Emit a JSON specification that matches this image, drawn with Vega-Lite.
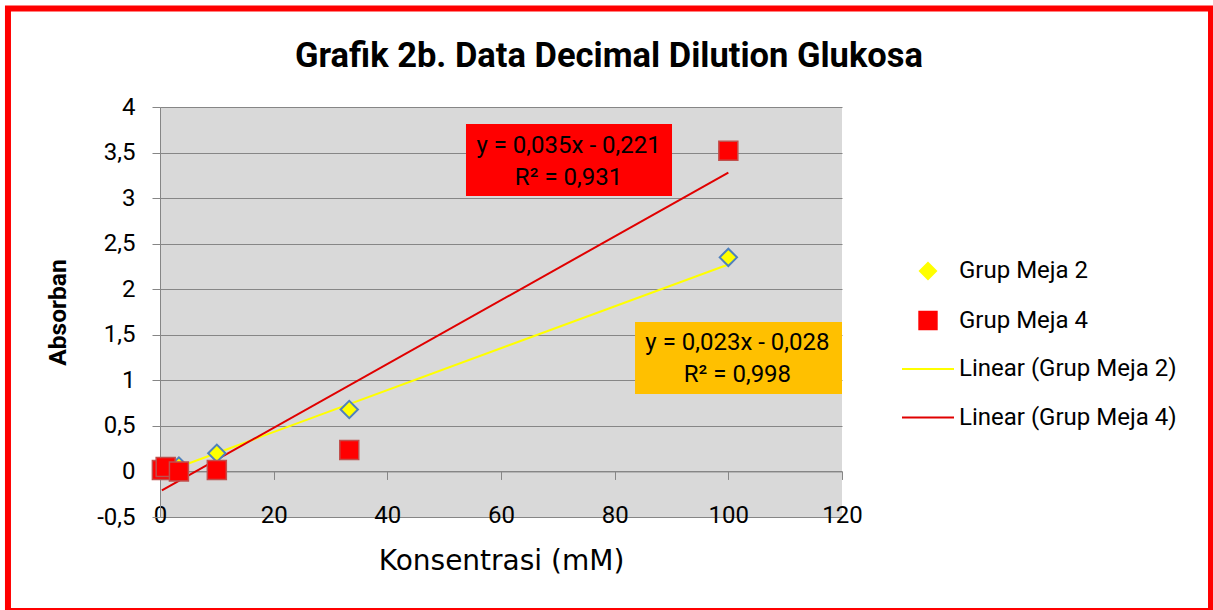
{
  "$schema": "https://vega.github.io/schema/vega-lite/v6.json",
  "width": 682,
  "height": 410,
  "autosize": {"type": "none"},
  "padding": {"left": 160, "top": 107, "right": 371, "bottom": 93},
  "background": "white",
  "title": {
    "text": "Grafik 2b. Data Decimal Dilution Glukosa",
    "font": "Roboto",
    "fontSize": 34.5,
    "fontWeight": "bold",
    "color": "#000000",
    "baseline": "alphabetic",
    "anchor": "middle",
    "offset": 0,
    "dy": 95.5,
    "dx": 108
  },
  "config": {
    "view": {"stroke": null, "fill": "#D9D9D9"},
    "axis": {
      "domainColor": "#868686",
      "tickColor": "#868686",
      "gridColor": "#868686",
      "gridOpacity": 1,
      "labelFont": "Roboto",
      "labelFontSize": 24,
      "labelColor": "#000000",
      "titleColor": "#000000",
      "tickSize": 8,
      "domainWidth": 1,
      "tickWidth": 1,
      "gridWidth": 1
    }
  },
  "datasets": {
    "pengukuran": [
      {"konsentrasi": 0.33, "absorban": 0.02, "series": "Grup Meja 2"},
      {"konsentrasi": 1, "absorban": 0.03, "series": "Grup Meja 2"},
      {"konsentrasi": 3.33, "absorban": 0.06, "series": "Grup Meja 2"},
      {"konsentrasi": 10, "absorban": 0.2, "series": "Grup Meja 2"},
      {"konsentrasi": 33.3, "absorban": 0.68, "series": "Grup Meja 2"},
      {"konsentrasi": 100, "absorban": 2.35, "series": "Grup Meja 2"},
      {"konsentrasi": 0.33, "absorban": 0.016, "series": "Grup Meja 4"},
      {"konsentrasi": 1, "absorban": 0.05, "series": "Grup Meja 4"},
      {"konsentrasi": 3.33, "absorban": 0.0, "series": "Grup Meja 4"},
      {"konsentrasi": 10, "absorban": 0.015, "series": "Grup Meja 4"},
      {"konsentrasi": 33.3, "absorban": 0.235, "series": "Grup Meja 4"},
      {"konsentrasi": 100, "absorban": 3.52, "series": "Grup Meja 4"}
    ],
    "trend": [
      {"konsentrasi": 0.33, "absorban": -0.020, "series": "Linear (Grup Meja 2)"},
      {"konsentrasi": 100, "absorban": 2.272, "series": "Linear (Grup Meja 2)"},
      {"konsentrasi": 0.33, "absorban": -0.209, "series": "Linear (Grup Meja 4)"},
      {"konsentrasi": 100, "absorban": 3.279, "series": "Linear (Grup Meja 4)"}
    ]
  },
  "layer": [
    {
      "data": {"values": [{"bingkai": "chart border"}]},
      "mark": {"type": "rect", "fill": "white", "fillOpacity": 0, "stroke": "#FF0000", "strokeWidth": 6, "clip": false},
      "encoding": {
        "x": {"datum": -26.75, "type": "quantitative", "scale": {"domain": [0, 120], "nice": false, "zero": false}},
        "x2": {"datum": 184.93},
        "y": {"datum": 5.081, "type": "quantitative", "scale": {"domain": [-0.5, 4], "nice": false, "zero": false}},
        "y2": {"datum": -1.532}
      }
    },
    {
      "data": {"values": [{"seri": "Grup Meja 4"}]},
      "mark": {"type": "rect", "fill": "#FF0000"},
      "encoding": {
        "x": {"datum": 53.84, "type": "quantitative"},
        "x2": {"datum": 90.09},
        "y": {"datum": 3.813, "type": "quantitative"},
        "y2": {"datum": 3.023}
      }
    },
    {
      "data": {"values": [{"seri": "Grup Meja 2"}]},
      "mark": {"type": "rect", "fill": "#FFC000"},
      "encoding": {
        "x": {"datum": 83.58, "type": "quantitative"},
        "x2": {"datum": 120},
        "y": {"datum": 1.641, "type": "quantitative"},
        "y2": {"datum": 0.85}
      }
    },
    {
      "data": {"name": "trend"},
      "mark": {"type": "line", "strokeWidth": 2, "clip": true},
      "encoding": {
        "x": {
          "field": "konsentrasi",
          "type": "quantitative",
          "scale": {"domain": [0, 120], "nice": false, "zero": false},
          "axis": {
            "title": "Konsentrasi (mM)",
            "values": [0, 20, 40, 60, 80, 100, 120],
            "offset": -45.56,
            "grid": false,
            "labelPadding": 24,
            "labelFlush": false,
            "labelOverlap": false,
            "labelBound": false,
            "titleFont": "DejaVu Sans",
            "titleFontSize": 28,
            "titleFontWeight": "normal",
            "titleX": 341,
            "titleY": 98,
            "titleBaseline": "alphabetic",
            "titleAlign": "center"
          }
        },
        "y": {
          "field": "absorban",
          "type": "quantitative",
          "scale": {"domain": [-0.5, 4], "nice": false, "zero": false},
          "axis": {
            "title": "Absorban",
            "values": [-0.5, 0, 0.5, 1, 1.5, 2, 2.5, 3, 3.5, 4],
            "grid": true,
            "labelExpr": "replace(toString(datum.value), '.', ',')",
            "labelPadding": 17,
            "labelFlush": false,
            "labelOverlap": false,
            "titleFont": "Roboto",
            "titleFontSize": 24.5,
            "titleFontWeight": "bold",
            "titleX": -95,
            "titleY": 205,
            "titleBaseline": "alphabetic",
            "titleAlign": "center",
            "titleAngle": 270
          }
        },
        "color": {
          "field": "series",
          "type": "nominal",
          "scale": {
            "domain": ["Grup Meja 2", "Grup Meja 4", "Linear (Grup Meja 2)", "Linear (Grup Meja 4)"],
            "range": ["#FFFF00", "#FF0000", "#FFFF00", "#E00000"]
          },
          "legend": {
            "title": null,
            "orient": "none",
            "legendX": 756,
            "legendY": 152,
            "padding": 0,
            "labelFont": "Roboto",
            "labelFontSize": 24,
            "labelColor": "#000000",
            "labelOffset": 19,
            "labelLimit": 400,
            "symbolSize": 1600,
            "rowPadding": 24.5,
            "encode": {
              "symbols": {
                "update": {
                  "shape": {"signal": "datum.value == 'Grup Meja 2' ? 'diamond' : datum.value == 'Grup Meja 4' ? 'square' : 'M-1.3,0H1.3'"},
                  "size": {"signal": "datum.value == 'Grup Meja 2' ? 260 : datum.value == 'Grup Meja 4' ? 320 : 1600"},
                  "fill": {"signal": "datum.value == 'Grup Meja 2' ? '#FFFF00' : datum.value == 'Grup Meja 4' ? '#FF0000' : 'transparent'"},
                  "stroke": {"signal": "datum.value == 'Grup Meja 2' ? '#4F81BD' : datum.value == 'Grup Meja 4' ? '#C0504D' : datum.value == 'Linear (Grup Meja 2)' ? '#FFFF00' : '#E00000'"},
                  "strokeWidth": {"signal": "datum.value == 'Grup Meja 4' ? 1.5 : 2"},
                  "opacity": {"value": 1},
                  "fillOpacity": {"value": 1},
                  "strokeOpacity": {"value": 1}
                }
              }
            }
          }
        }
      }
    },
    {
      "data": {"name": "pengukuran"},
      "transform": [{"filter": "datum.series == 'Grup Meja 2'"}],
      "mark": {"type": "point", "shape": "diamond", "filled": true, "fill": "#FFFF00", "stroke": "#4F81BD", "strokeWidth": 2, "size": 300, "opacity": 1},
      "encoding": {
        "x": {"field": "konsentrasi", "type": "quantitative"},
        "y": {"field": "absorban", "type": "quantitative"}
      }
    },
    {
      "data": {"name": "pengukuran"},
      "transform": [{"filter": "datum.series == 'Grup Meja 4'"}],
      "mark": {"type": "square", "filled": true, "fill": "#FF0000", "stroke": "#C0504D", "strokeWidth": 1.5, "size": 361, "opacity": 1},
      "encoding": {
        "x": {"field": "konsentrasi", "type": "quantitative"},
        "y": {"field": "absorban", "type": "quantitative"}
      }
    },
    {
      "data": {"values": [{"persamaan": "y = 0,035x - 0,221\nR² = 0,931"}]},
      "mark": {"type": "text", "font": "Roboto", "fontSize": 24, "color": "#000000", "align": "center", "baseline": "middle", "lineBreak": "\n", "lineHeight": 32},
      "encoding": {
        "x": {"datum": 71.88, "type": "quantitative"},
        "y": {"datum": 3.577, "type": "quantitative"},
        "text": {"field": "persamaan"}
      }
    },
    {
      "data": {"values": [{"persamaan": "y = 0,023x - 0,028\nR² = 0,998"}]},
      "mark": {"type": "text", "font": "Roboto", "fontSize": 24, "color": "#000000", "align": "center", "baseline": "middle", "lineBreak": "\n", "lineHeight": 32},
      "encoding": {
        "x": {"datum": 101.6, "type": "quantitative"},
        "y": {"datum": 1.41, "type": "quantitative"},
        "text": {"field": "persamaan"}
      }
    }
  ]
}
